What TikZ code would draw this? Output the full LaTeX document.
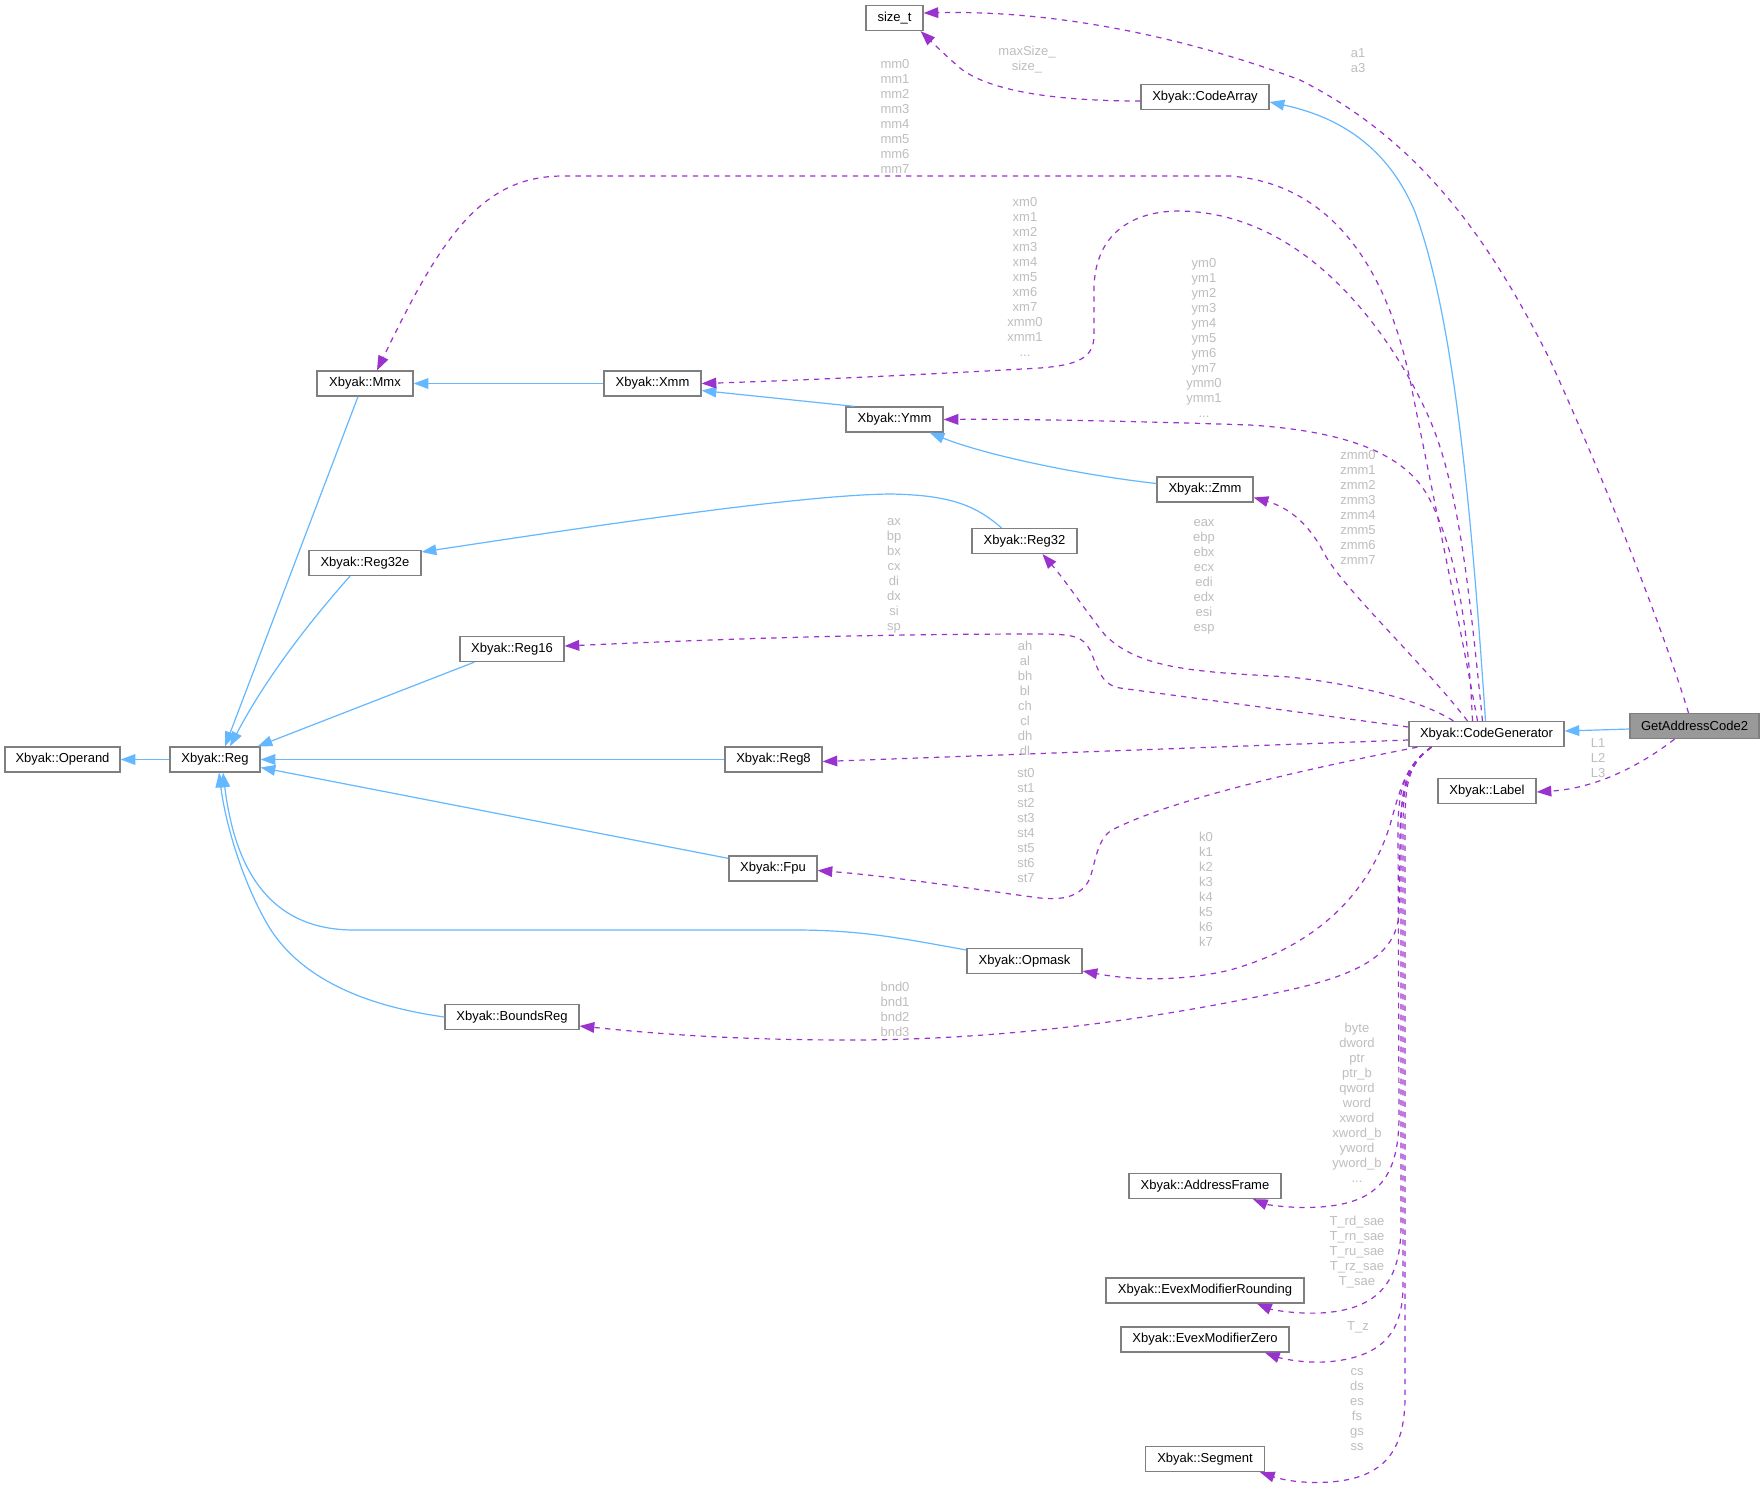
\documentclass[tikz,border=0pt]{standalone}
\usepackage{fontspec}
\setmainfont{Liberation Sans}
\usetikzlibrary{arrows.meta,calc}
\definecolor{boxgray}{HTML}{7F7F7F}
\definecolor{gacfill}{HTML}{999999}
\definecolor{inhblue}{HTML}{63B8FF}
\definecolor{usepurple}{HTML}{9A32CD}
\definecolor{lblgray}{HTML}{BEBEBE}
\begin{document}
\begin{tikzpicture}[x=0.75pt,y=-0.75pt,
  box/.style={draw=boxgray, fill=white, line width=0.95pt, minimum height=18.75pt, inner sep=0pt, font=\fontsize{9.75}{11.25}\selectfont},
  lbl/.style={text=lblgray, align=center, inner sep=0pt, font=\fontsize{9.75}{11.25}\selectfont},
  inh/.style={draw=inhblue, line width=0.9pt, -{Triangle[length=11pt,width=8pt]}},
  use/.style={draw=usepurple, line width=0.9pt, dash pattern=on 4pt off 4pt, -{Triangle[length=11pt,width=8pt]}}]
\useasboundingbox[fill=white] (0,0) rectangle (1764,1486);

% nodes
\node[box, minimum width=42.75pt] (sizet) at (894.5,18) {size\_t};
\node[box, minimum width=96pt] (carr) at (1205,97) {Xbyak::CodeArray};
\node[box, minimum width=72pt] (mmx) at (365,383.5) {Xbyak::Mmx};
\node[box, minimum width=72.75pt] (xmm) at (652.5,383.5) {Xbyak::Xmm};
\node[box, minimum width=72.75pt] (ymm) at (894.5,419.5) {Xbyak::Ymm};
\node[box, minimum width=72pt] (zmm) at (1205,489.5) {Xbyak::Zmm};
\node[box, minimum width=78.75pt] (r32) at (1024.5,541) {Xbyak::Reg32};
\node[box, minimum width=84pt] (r32e) at (365,563) {Xbyak::Reg32e};
\node[box, minimum width=78pt] (r16) at (512,649) {Xbyak::Reg16};
\node[box, minimum width=86.25pt] (oper) at (62.5,759.5) {Xbyak::Operand};
\node[box, minimum width=67.5pt] (reg) at (215,759.5) {Xbyak::Reg};
\node[box, minimum width=72.75pt] (r8) at (773.5,759.5) {Xbyak::Reg8};
\node[box, minimum width=116.25pt] (cg) at (1486.5,734) {Xbyak::CodeGenerator};
\node[box, fill=gacfill, minimum width=96.75pt] (gac) at (1694.5,726) {GetAddressCode2};
\node[box, minimum width=73.5pt] (lab) at (1487,791) {Xbyak::Label};
\node[box, minimum width=66pt] (fpu) at (773,868.5) {Xbyak::Fpu};
\node[box, minimum width=86.25pt] (opm) at (1024.5,961) {Xbyak::Opmask};
\node[box, minimum width=100.5pt] (bnd) at (512,1017) {Xbyak::BoundsReg};
\node[box, minimum width=114pt] (af) at (1205,1186) {Xbyak::AddressFrame};
\node[box, minimum width=148.5pt] (emr) at (1205,1290.5) {Xbyak::EvexModifierRounding};
\node[box, minimum width=126pt] (emz) at (1205,1339.5) {Xbyak::EvexModifierZero};
\node[box, minimum width=89.25pt] (seg) at (1205,1459) {Xbyak::Segment};

% inheritance edges
\draw[inh] ($(gac.west)+(0,3)$) -- ($(cg.east)+(0,-3)$);
\draw[inh] ($(cg.north)+(-1,0)$) .. controls (1472,520) and (1455,320) .. (1415,212) .. controls (1385,140) and (1330,115) .. ($(carr.east)+(0,5)$);
\draw[inh] (xmm.west) -- (mmx.east);
\draw[inh] ($(ymm.north west)+(9,0)$) -- ($(xmm.east)+(0,7)$);
\draw[inh] ($(zmm.west)+(0,-6)$) .. controls (1080,475) and (985,455) .. ($(ymm.south east)+(-14,0)$);
\draw[inh] ($(r32.north)+(-23,0)$) .. controls (975,505) and (950,495) .. (890,494) .. controls (800,495) and (600,525) .. ($(r32e.east)+(0,-11)$);
\draw[inh] ($(mmx.south)+(-7,0)$) -- ($(reg.north)+(10,0)$);
\draw[inh] ($(r32e.south)+(-15,0)$) .. controls (320,610) and (270,670) .. ($(reg.north)+(15,0)$);
\draw[inh] ($(r16.south west)+(15,0)$) -- ($(reg.north east)+(-3,0)$);
\draw[inh] (r8.west) -- (reg.east);
\draw[inh] ($(fpu.north west)+(0,3)$) -- ($(reg.east)+(0,8)$);
\draw[inh] ($(opm.west)+(0,-11)$) .. controls (900,938) and (860,930) .. (795,930) -- (354,930) .. controls (270,930) and (235,870) .. ($(reg.south)+(8,0)$);
\draw[inh] (bnd.west) .. controls (380,1008) and (300,985) .. (265,920) .. controls (240,875) and (225,820) .. ($(reg.south)+(4,0)$);
\draw[inh] (reg.west) -- (oper.east);

% usage edges
\draw[use] ($(carr.west)+(0,4)$) .. controls (1060,101) and (990,92) .. (960,68) .. controls (945,55) and (935,45) .. ($(sizet.south east)+(-3,0)$);
\draw[use] ($(gac.north)+(-6,0)$) .. controls (1660,620) and (1600,470) .. (1550,360) .. controls (1490,240) and (1420,140) .. (1300,80) .. controls (1180,35) and (1050,10) .. ($(sizet.east)+(0,-5)$);
\draw[use] ($(gac.south)+(-20,0)$) .. controls (1645,762) and (1600,788) .. ($(lab.east)+(0,1)$);
\draw[use] ($(cg.north)+(-9,0)$) .. controls (1455,600) and (1430,480) .. (1412,390) .. controls (1395,300) and (1350,185) .. (1230,176) -- (563,176) .. controls (480,176) and (440,240) .. ($(mmx.north)+(12,0)$);
\draw[use] ($(cg.north)+(-4,0)$) .. controls (1470,600) and (1460,490) .. (1430,420) .. controls (1395,340) and (1310,213) .. (1180,211) .. controls (1125,211) and (1094,240) .. (1094,290) -- (1094,335) .. controls (1094,358) and (1078,365) .. (1040,368) .. controls (900,376) and (780,381) .. (xmm.east);
\draw[use] ($(cg.north)+(-14,0)$) .. controls (1468,620) and (1455,550) .. (1430,500) .. controls (1410,460) and (1360,432) .. (1250,425) .. controls (1100,420) and (1000,419) .. (ymm.east);
\draw[use] ($(cg.north)+(-19,0)$) .. controls (1420,660) and (1345,590) .. (1325,555) .. controls (1310,525) and (1290,508) .. ($(zmm.east)+(0,8)$);
\draw[use] ($(cg.north west)+(45,0)$) .. controls (1420,700) and (1360,685) .. (1290,677) .. controls (1200,672) and (1140,670) .. (1105,635) .. controls (1085,610) and (1065,580) .. ($(r32.south)+(18,0)$);
\draw[use] ($(cg.west)+(0,-7)$) -- (1120,688) .. controls (1100,685) and (1097,665) .. (1090,650) .. controls (1083,637) and (1075,634) .. (1040,634) .. controls (850,634) and (700,640) .. ($(r16.east)+(0,-3)$);
\draw[use] ($(cg.west)+(0,6)$) -- ($(r8.east)+(0,2)$);
\draw[use] ($(cg.south west)+(9,0)$) .. controls (1300,770) and (1170,800) .. (1112,830) .. controls (1095,840) and (1095,870) .. (1088,882) .. controls (1078,898) and (1060,900) .. (1040,898) .. controls (980,890) and (890,876) .. ($(fpu.east)+(0,2)$);
\draw[use] ($(cg.south)+(-55,0)$) .. controls (1405,765) and (1400,790) .. (1390,825) .. controls (1370,890) and (1320,945) .. (1230,970) .. controls (1180,982) and (1130,980) .. ($(opm.east)+(0,10)$);
\draw[use] ($(cg.south)+(-55,0)$) .. controls (1405,765) and (1400,800) .. (1400,840) -- (1399,915) .. controls (1395,955) and (1360,975) .. (1280,992) .. controls (1150,1020) and (1000,1040) .. (850,1040) .. controls (720,1040) and (640,1032) .. ($(bnd.east)+(0,9)$);
\draw[use] ($(cg.south)+(-55,0)$) .. controls (1405,765) and (1398,790) .. (1398,830) -- (1399,1115) .. controls (1399,1175) and (1380,1203) .. (1320,1207) .. controls (1290,1209) and (1265,1204) .. ($(af.south)+(48,0)$);
\draw[use] ($(cg.south)+(-55,0)$) .. controls (1405,765) and (1401,790) .. (1401,830) -- (1401,1225) .. controls (1401,1280) and (1380,1310) .. (1320,1313) .. controls (1290,1314) and (1270,1309) .. ($(emr.south)+(52,0)$);
\draw[use] ($(cg.south)+(-55,0)$) .. controls (1405,765) and (1403,790) .. (1403,830) -- (1403,1285) .. controls (1403,1330) and (1385,1358) .. (1325,1362) .. controls (1300,1363) and (1280,1358) .. ($(emz.south)+(60,0)$);
\draw[use] ($(cg.south)+(-55,0)$) .. controls (1406,765) and (1405,790) .. (1405,830) -- (1405,1400) .. controls (1404,1450) and (1385,1478) .. (1330,1482) .. controls (1300,1484) and (1280,1479) .. ($(seg.south)+(55,0)$);

% edge labels
\node[lbl] (t1) at (1027,59.5) {maxSize\_\\size\_};
\node[lbl] (t2) at (1358,60.5) {a1\\a3};
\node[lbl] (t3) at (895,116.5) {mm0\\mm1\\mm2\\mm3\\mm4\\mm5\\mm6\\mm7};
\node[lbl] (t4) at (1025,277) {xm0\\xm1\\xm2\\xm3\\xm4\\xm5\\xm6\\xm7\\xmm0\\xmm1\\...};
\node[lbl] (t5) at (1204,338) {ym0\\ym1\\ym2\\ym3\\ym4\\ym5\\ym6\\ym7\\ymm0\\ymm1\\...};
\node[lbl] (t6) at (1358,507.5) {zmm0\\zmm1\\zmm2\\zmm3\\zmm4\\zmm5\\zmm6\\zmm7};
\node[lbl] (t7) at (1204,576.5) {eax\\ebp\\ebx\\ecx\\edi\\edx\\esi\\esp};
\node[lbl] (t8) at (894,575.5) {ax\\bp\\bx\\cx\\di\\dx\\si\\sp};
\node[lbl] (t9) at (1025,698.5) {ah\\al\\bh\\bl\\ch\\cl\\dh\\dl};
\node[lbl] (t10) at (1026,825.5) {st0\\st1\\st2\\st3\\st4\\st5\\st6\\st7};
\node[lbl] (t11) at (1206,889.5) {k0\\k1\\k2\\k3\\k4\\k5\\k6\\k7};
\node[lbl] (t12) at (895,1009.5) {bnd0\\bnd1\\bnd2\\bnd3};
\node[lbl] (t13) at (1357,1102.5) {byte\\dword\\ptr\\ptr\_b\\qword\\word\\xword\\xword\_b\\yword\\yword\_b\\...};
\node[lbl] (t14) at (1357,1252) {T\_rd\_sae\\T\_rn\_sae\\T\_ru\_sae\\T\_rz\_sae\\T\_sae};
\node[lbl] (t15) at (1358,1327) {T\_z};
\node[lbl] (t16) at (1357,1410) {cs\\ds\\es\\fs\\gs\\ss};
\node[lbl] (t17) at (1598,758) {L1\\L2\\L3};
\end{tikzpicture}
\end{document}
